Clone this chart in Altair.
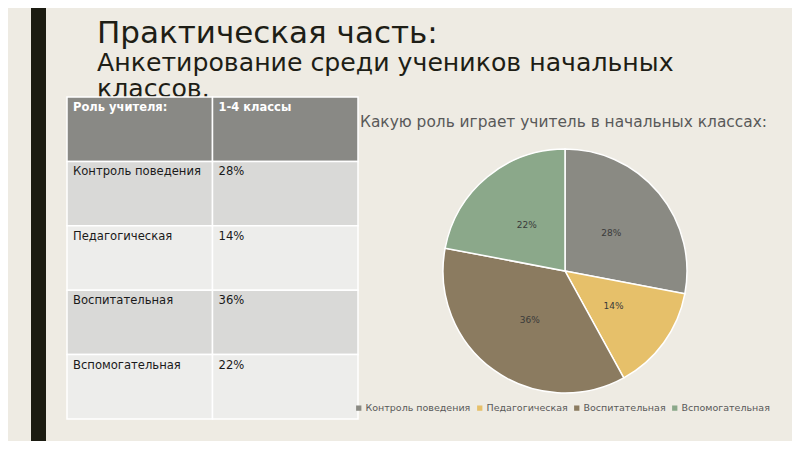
import altair as alt
import pandas as pd

# ---- data ----
categories = ["Контроль поведения", "Педагогическая", "Воспитательная", "Вспомогательная"]
values = [28, 14, 36, 22]
pie_colors = ["#8A8A83", "#E6C06A", "#8B7B60", "#8BA88A"]
header = ["Роль учителя:", "1-4 классы"]
columns = ["c1", "c2"]
row_fills = ["#898985", "#D9D9D7", "#EDEDEB", "#D9D9D7", "#EDEDEB"]
title_lines = ["Практическая часть:", "Анкетирование среди учеников начальных", "классов."]
chart_title = "Какую роль играет учитель в начальных классах:"

W, H = 784, 433
BG = "#EEEBE3"
FONT = "DejaVu Sans"

# ---- table data ----
rows = ["r0"] + [f"r{i+1}" for i in range(len(categories))]
cells = []
for ri, r in enumerate(rows):
    for ci, c in enumerate(columns):
        if ri == 0:
            txt = header[ci]
        else:
            txt = categories[ri - 1] if ci == 0 else f"{values[ri - 1]}%"
        cells.append({"row": r, "col": c, "text": txt, "fill": row_fills[ri], "head": ri == 0})
table_df = pd.DataFrame(cells)

TX0, TX1, TY0, TY1 = 59, 350, 89, 411
xs = alt.Scale(domain=columns, range=[TX0, TX1], paddingInner=0, paddingOuter=0)
ys = alt.Scale(domain=rows, range=[TY0, TY1], paddingInner=0, paddingOuter=0)
half_bw = (TX1 - TX0) / len(columns) / 2
half_bh = (TY1 - TY0) / len(rows) / 2

base_t = alt.Chart(table_df)
cells_layer = base_t.mark_rect(stroke="white", strokeWidth=1.5).encode(
    x=alt.X("col:N", scale=xs, axis=None),
    y=alt.Y("row:N", scale=ys, axis=None),
    fill=alt.Fill("fill:N", scale=None),
)
head_text = base_t.transform_filter("datum.head").mark_text(
    align="left", baseline="top", dx=6 - half_bw, dy=5 - half_bh,
    font=FONT, fontSize=11.5, fontWeight="bold", color="white"
).encode(
    x=alt.X("col:N", scale=xs, axis=None),
    y=alt.Y("row:N", scale=ys, axis=None),
    text="text:N",
)
body_text = base_t.transform_filter("!datum.head").mark_text(
    align="left", baseline="top", dx=6 - half_bw, dy=5 - half_bh,
    font=FONT, fontSize=11.6, color="#1a1a1a"
).encode(
    x=alt.X("col:N", scale=xs, axis=None),
    y=alt.Y("row:N", scale=ys, axis=None),
    text="text:N",
)

# ---- side bar ----
bar = alt.Chart(pd.DataFrame({"a": [0]})).mark_rect(color="#1C1C12").encode(
    x=alt.value(23), x2=alt.value(38), y=alt.value(0), y2=alt.value(H)
)

# ---- titles ----
t_df = pd.DataFrame({"t": title_lines, "i": [0, 1, 2]})
title1 = alt.Chart(t_df).transform_filter("datum.i == 0").mark_text(
    align="left", baseline="alphabetic", font=FONT, fontSize=31, color="#1E1E16"
).encode(x=alt.value(89), y=alt.value(35), text="t:N")
title2 = alt.Chart(t_df).transform_filter("datum.i == 1").mark_text(
    align="left", baseline="alphabetic", font=FONT, fontSize=25.2, color="#1E1E16"
).encode(x=alt.value(89), y=alt.value(63), text="t:N")
title3 = alt.Chart(t_df).transform_filter("datum.i == 2").mark_text(
    align="left", baseline="alphabetic", font=FONT, fontSize=25.2, color="#1E1E16"
).encode(x=alt.value(89), y=alt.value(89), text="t:N")
sub = alt.Chart(pd.DataFrame({"t": [chart_title]})).mark_text(
    align="left", baseline="alphabetic", font=FONT, fontSize=15.4, color="#595959"
).encode(x=alt.value(352), y=alt.value(119), text="t:N")

# ---- pie ----
pie_df = pd.DataFrame({"cat": categories, "val": values, "idx": range(len(categories))})
pie_df["lab"] = [f"{v}%" for v in values]
pie_base = alt.Chart(pie_df).encode(
    theta=alt.Theta("val:Q", stack=True),
    order=alt.Order("idx:Q"),
    x=alt.value(557), y=alt.value(263),
)
arcs = pie_base.mark_arc(outerRadius=122, stroke="white", strokeWidth=1.5).encode(
    color=alt.Color("cat:N", scale=alt.Scale(domain=categories, range=pie_colors),
                    sort=categories,
                    legend=alt.Legend(title=None, orient="none", legendX=346, legendY=395,
                                      direction="horizontal", symbolType="square", symbolSize=28,
                                      symbolStrokeWidth=0, labelFontSize=9.5, labelFont=FONT,
                                      labelColor="#595959", labelOffset=2, columnPadding=4))
)
labels = pie_base.mark_text(radius=60, font=FONT, fontSize=9, color="#3a3a3a").encode(text="lab:N")

chart = alt.layer(bar, title1, title2, title3, sub, cells_layer, head_text, body_text, arcs, labels).resolve_scale(
    x="independent", y="independent", color="independent", fill="independent"
).properties(
    width=W, height=H, padding=0, autosize=alt.AutoSizeParams(type="none"), background=BG
).configure_view(stroke=None)

chart.save("out.html", embed_options={"renderer": "svg", "actions": False})
